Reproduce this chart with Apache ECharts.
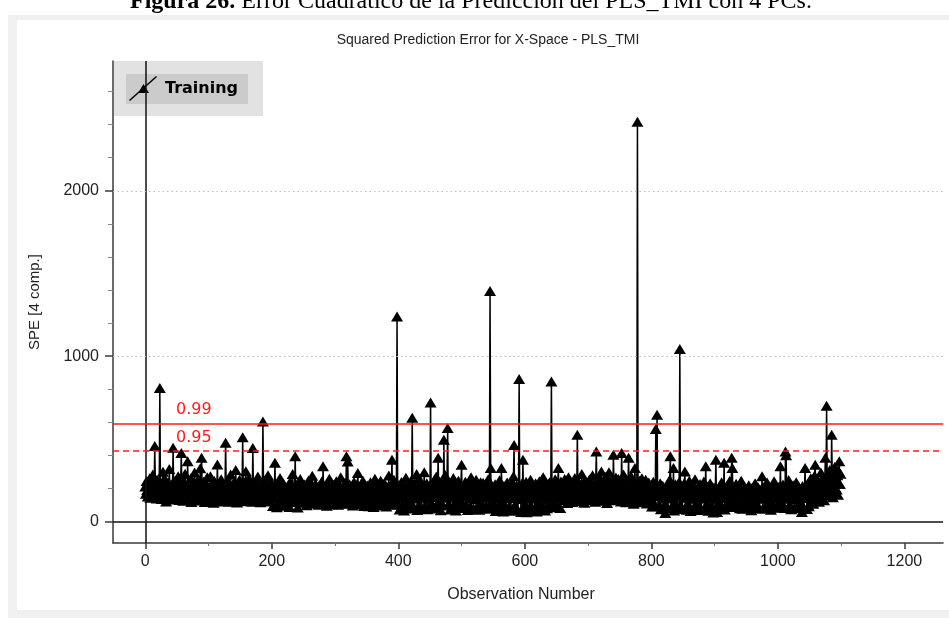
<!DOCTYPE html>
<html>
<head>
<meta charset="utf-8">
<script src="https://cdn.jsdelivr.net/npm/echarts@6/dist/echarts.min.js"></script>
<style>
html,body{margin:0;padding:0;background:#fff;}
#frame{position:absolute;left:8px;top:15px;width:941px;height:603px;background:#f0f0f0;}
#inner{position:absolute;left:17px;top:20px;width:932px;height:590px;background:#fff;}
#c{position:absolute;left:0;top:0;width:949px;height:618px;}
</style>
</head>
<body>
<div id="frame"></div>
<div id="inner"></div>
<div id="c"></div>
<script>
const speValues = [
212,168,245,190,151,236,178,262,143,205,231,169,284,157,198,457,222,176,139,251,187,214,163,808,241,
183,136,229,301,172,148,257,194,121,210,176,238,159,318,187,142,226,168,203,446,181,133,247,192,160,
219,154,273,177,130,208,244,415,166,197,125,236,182,289,148,211,171,364,139,228,193,156,262,118,201,
174,233,145,297,186,127,215,168,251,139,203,179,322,152,385,196,134,241,173,118,226,188,147,268,161,
209,142,186,274,125,197,231,158,113,246,172,204,137,189,345,166,121,218,183,149,256,128,194,167,229,
153,188,476,212,131,174,243,119,198,162,285,141,207,176,123,236,191,154,312,168,115,224,182,139,253,
177,134,219,198,509,163,241,122,186,304,150,213,178,127,262,193,144,229,171,119,445,205,158,187,236,
129,196,168,272,143,211,182,117,233,159,201,605,174,126,248,188,152,219,136,279,164,203,121,185,242,
147,183,94,216,171,355,138,194,86,227,158,182,124,263,149,201,96,176,232,135,168,99,207,154,189,
126,214,163,88,241,178,137,196,287,152,118,183,394,142,209,166,84,228,173,131,257,186,121,199,158,
113,187,224,141,169,98,203,156,248,127,181,115,212,163,276,138,194,107,171,229,146,118,188,159,102,
217,173,131,195,242,108,334,164,122,206,151,183,96,231,169,137,258,114,192,147,178,105,223,161,134,
198,117,244,152,176,101,214,139,187,268,124,163,209,111,182,146,235,171,394,128,363,193,108,226,157,
184,132,205,97,171,239,143,119,191,162,226,294,137,178,103,213,155,188,122,247,166,94,201,149,177,
126,218,161,92,194,143,237,109,176,152,203,87,168,259,131,189,114,222,158,97,181,139,246,121,172,
105,198,154,231,128,183,91,212,166,137,278,119,193,148,224,373,102,176,253,134,187,115,209,1240,163,
104,221,72,184,152,239,91,171,205,66,193,142,264,98,178,157,79,216,169,112,247,187,627,145,198,
86,234,167,139,288,70,203,176,101,251,158,189,81,226,143,171,298,93,196,154,232,74,183,137,215,
162,720,106,207,181,78,243,156,194,94,272,148,213,385,112,178,226,68,189,161,238,97,494,171,282,
196,143,257,566,103,209,174,73,231,152,189,90,263,166,204,114,67,218,179,145,247,95,193,161,228,
343,112,186,82,214,159,241,99,172,198,69,233,151,187,92,268,142,205,166,76,224,178,136,252,88,
191,157,219,71,176,238,108,203,148,234,84,187,162,227,98,181,145,256,77,198,1394,324,168,213,116,
81,192,153,226,64,174,141,207,93,163,249,72,185,324,109,171,61,214,156,96,198,70,236,147,178,
89,203,167,65,231,142,188,274,463,99,176,78,219,158,70,197,862,136,181,58,228,149,373,86,164,
193,104,241,56,172,147,209,76,183,252,94,165,66,217,139,186,83,232,154,60,198,171,101,244,72,
181,148,213,92,267,137,192,67,226,163,80,201,145,178,238,103,196,847,158,86,219,174,110,256,149,
187,96,233,324,154,198,82,242,169,138,211,183,129,257,176,148,221,112,194,268,157,203,134,239,171,
118,226,187,149,263,204,132,178,524,156,241,193,123,212,168,287,141,219,182,114,247,196,158,231,137,
209,173,254,128,196,233,162,279,145,218,186,119,241,424,167,204,138,262,181,152,227,303,126,199,243,
164,218,137,271,189,112,236,174,298,153,207,128,249,182,161,403,224,143,196,266,131,211,178,257,146,
229,187,121,415,203,168,284,142,216,193,117,252,176,231,385,158,198,134,273,187,149,226,108,241,324,
172,213,139,2418,196,158,247,126,203,181,262,117,224,165,191,138,253,176,109,218,147,236,187,128,209,
163,90,198,241,112,176,92,560,183,645,152,207,97,168,231,74,189,143,216,77,171,103,52,194,157,
221,82,184,139,252,394,167,91,203,148,324,66,192,226,109,173,75,215,156,241,1043,96,187,163,79,
198,143,231,303,87,176,71,209,158,98,247,181,64,196,137,218,162,78,189,256,104,172,69,204,147,
183,89,227,154,73,198,139,171,242,82,187,334,101,163,212,65,176,144,231,92,193,152,68,55,205,
137,174,373,96,58,186,95,209,152,83,167,238,84,194,141,355,73,178,100,213,159,94,186,132,247,
88,168,385,324,143,87,201,156,93,228,174,92,189,137,214,80,163,246,104,77,181,149,206,98,171,
134,197,82,158,219,91,176,141,68,203,163,81,187,104,231,93,154,178,87,206,146,79,192,138,168,
273,78,184,147,214,88,169,102,236,158,96,193,134,178,71,209,152,92,187,243,83,164,139,198,86,
176,104,212,153,334,97,186,142,224,92,168,81,424,400,137,193,85,251,162,101,204,74,181,146,219,
158,80,196,134,238,87,171,97,209,149,96,183,104,58,214,167,85,198,324,142,186,76,227,159,93,
203,147,261,126,189,232,108,176,278,343,154,213,137,249,191,119,236,168,297,142,208,181,263,129,226,
385,174,700,239,198,287,156,312,221,183,524,264,147,296,207,331,172,248,193,279,162,304,364,227,289
];
const limit99 = 594;
const limit95 = 427;
const gridLevels = [1000, 2000];
const xTickLabels = [0, 200, 400, 600, 800, 1000, 1200];
const xMinorTicks = [100, 300, 500, 700, 900, 1100];
const yTickLabels = [0, 1000, 2000];
const yMinorTicks = [200, 400, 600, 800, 1200, 1400, 1600, 1800, 2200, 2400, 2600];
const seriesName = 'Training';
const chartTitle = 'Squared Prediction Error for X-Space - PLS_TMI';
const captionBold = 'Figura 26.';
const captionText = ' Error Cuadrático de la Predicción del PLS_TMI con 4 PCs.';
const xName = 'Observation Number';
const yName = 'SPE [4 comp.]';

const X_MIN = -51, X_MAX = 1261, Y_MIN = -130, Y_MAX = 2785;
const axisColor = '#3a3a3a';
const textColor = '#222';
const sans = 'Liberation Sans';
const plain = v => String(v);

const chart = echarts.init(document.getElementById('c'), null, {renderer: 'canvas'});
const baseX = {
  type: 'value', min: X_MIN, max: X_MAX, gridIndex: 0, position: 'bottom',
  splitLine: {show: false}
};
const baseY = {
  type: 'value', min: Y_MIN, max: Y_MAX, gridIndex: 0, position: 'left',
  splitLine: {show: false}
};
const option = {
  animation: false,
  backgroundColor: 'transparent',
  title: [
    {
      text: '{b|' + captionBold + '}' + captionText,
      left: 130, top: -10, padding: 0,
      textStyle: {fontFamily: 'Liberation Serif', fontSize: 24, fontWeight: 'normal', color: '#000',
        rich: {b: {fontFamily: 'Liberation Serif', fontSize: 24, fontWeight: 'bold', color: '#000'}}}
    },
    {
      text: chartTitle, left: 488, top: 33, padding: 0, textAlign: 'center',
      textStyle: {fontFamily: sans, fontSize: 14, fontWeight: 'normal', color: textColor}
    }
  ],
  grid: {left: 113, right: 6, top: 61, bottom: 75, containLabel: false},
  legend: {
    data: [seriesName], left: 126, top: 74, z: 2,
    selectedMode: false,
    backgroundColor: '#cbcbcb',
    padding: [2, 10, 3, 3],
    itemWidth: 28, itemHeight: 25,
    icon: 'path://M0,24 L27,0 L28,1 L1,25 Z M9,17 L14.5,8 L20,17 Z',
    textStyle: {fontFamily: 'DejaVu Sans', fontWeight: 'bold', fontSize: 16, color: '#000', padding: [0, 0, 0, 3]}
  },
  graphic: [
    {type: 'rect', z: 1, silent: true, shape: {x: 114, y: 61, width: 149, height: 55}, style: {fill: '#e2e2e2'}}
  ],
  xAxis: [
    Object.assign({}, baseX, {
      name: xName, nameLocation: 'middle', nameGap: 44,
      nameTextStyle: {fontFamily: sans, fontSize: 16, color: textColor, padding: [0, 14, 0, 0]},
      axisLine: {show: true, onZero: false, lineStyle: {color: axisColor, width: 1.5}},
      axisTick: {show: true, customValues: xTickLabels, length: 6, lineStyle: {color: axisColor, width: 1.5}},
      axisLabel: {show: true, customValues: xTickLabels, formatter: plain, margin: 11, fontFamily: sans, fontSize: 16, color: textColor}
    }),
    Object.assign({}, baseX, {
      axisLine: {show: false, onZero: false},
      axisTick: {show: true, customValues: xMinorTicks, length: 3, lineStyle: {color: '#777', width: 1}},
      axisLabel: {show: false}
    })
  ],
  yAxis: [
    Object.assign({}, baseY, {
      name: yName, nameLocation: 'middle', nameGap: 71, nameRotate: 90,
      nameTextStyle: {fontFamily: sans, fontSize: 15, color: textColor},
      axisLine: {show: true, onZero: false, lineStyle: {color: axisColor, width: 1.5}},
      axisTick: {show: true, customValues: yTickLabels, length: 8, lineStyle: {color: axisColor, width: 1.5}},
      axisLabel: {show: true, customValues: yTickLabels, formatter: plain, margin: 14, fontFamily: sans, fontSize: 16, color: textColor}
    }),
    Object.assign({}, baseY, {
      axisLine: {show: false, onZero: false},
      axisTick: {show: true, customValues: yMinorTicks, length: 5, lineStyle: {color: '#888', width: 1}},
      axisLabel: {show: false}
    })
  ],
  series: [
    {
      name: 'refs', type: 'line', data: [], z: 3, silent: true,
      markLine: {
        silent: true, symbol: 'none', animation: false,
        data: [
          {xAxis: 0, lineStyle: {color: '#111', width: 1.5, type: 'solid'}, label: {show: false}},
          {yAxis: 0, lineStyle: {color: '#111', width: 1.5, type: 'solid'}, label: {show: false}},
          ...gridLevels.map(v => ({yAxis: v, lineStyle: {color: '#bdbdbd', width: 1.2, type: [1.5, 3]}, label: {show: false}})),
          {yAxis: limit99, lineStyle: {color: '#ff1a1a', width: 1.5, type: 'solid'},
           label: {show: true, position: 'insideStartTop', distance: [63, 5], formatter: '0.99',
                   color: '#ff1a1a', fontFamily: 'DejaVu Sans', fontSize: 16}},
          {yAxis: limit95, lineStyle: {color: '#ff1a1a', width: 1.5, type: [6, 4]},
           label: {show: true, position: 'insideStartTop', distance: [63, 5], formatter: '0.95',
                   color: '#ff1a1a', fontFamily: 'DejaVu Sans', fontSize: 16}}
        ]
      }
    },
    {
      name: seriesName, type: 'line', z: 4, silent: true,
      data: speValues.map((v, i) => [i, v]),
      symbol: 'triangle', symbolSize: [12, 10], showSymbol: true,
      lineStyle: {color: '#000', width: 1.5},
      itemStyle: {color: '#000'}
    }
  ]
};
chart.setOption(option);
</script>
</body>
</html>
